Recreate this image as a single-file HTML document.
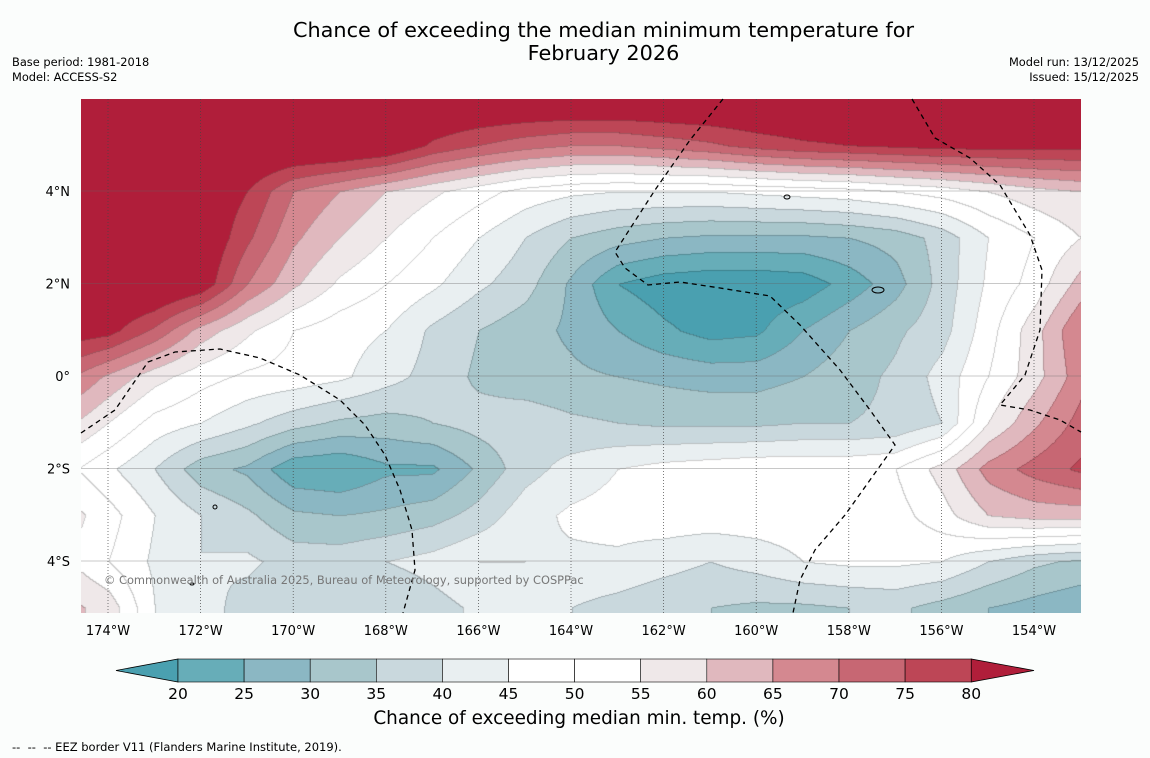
<!DOCTYPE html>
<html><head><meta charset="utf-8"><style>
body{margin:0;background:#fbfdfc;font-family:"DejaVu Sans","Liberation Sans",sans-serif;}
#wrap{position:relative;width:1150px;height:758px;overflow:hidden;background:#fbfdfc}
.t{position:absolute;white-space:nowrap;color:#000}
</style></head><body>
<div id="wrap">
<div class="t" style="left:0;width:1207px;text-align:center;top:19px;font-size:20.8px;line-height:23px">Chance of exceeding the median minimum temperature for<br>February 2026</div>
<div class="t" style="left:12px;top:55px;font-size:11.4px;line-height:15px">Base period: 1981-2018<br>Model: ACCESS-S2</div>
<div class="t" style="right:11px;top:55px;font-size:11.4px;line-height:15px;text-align:right">Model run: 13/12/2025<br>Issued: 15/12/2025</div>
<canvas id="map" width="1000" height="514" style="position:absolute;left:81px;top:99px"></canvas>
<svg id="ov" width="1150" height="758" style="position:absolute;left:0;top:0"></svg>
<div class="t" style="left:104px;top:573px;font-size:11.4px;color:#777">© Commonwealth of Australia 2025, Bureau of Meteorology, supported by COSPPac</div>
<div class="t" style="left:0;width:1150px;text-align:center;padding-left:8px;box-sizing:border-box;top:708px;font-size:18.4px">Chance of exceeding median min. temp. (%)</div>
<div class="t" style="left:12px;top:740px;font-size:11.5px">-- &nbsp;-- &nbsp;-- EEZ border V11 (Flanders Marine Institute, 2019).</div>
</div>
<script>
const lons=[-175,-174,-173,-172,-171,-170,-169,-168,-167,-166,-165,-164,-163,-162,-161,-160,-159,-158,-157,-156,-155,-154,-153];
const lats=[6,5,4,3,2,1,0,-1,-2,-3,-4,-5];
const row6=[88,88,88,88,88,88,88,88,88,88,88,88,88,88,88,88,88,88,88,88,88,88,88];
const row5=[88,88,88,88,88,88,88,86,79,75,72,70,70,72,74,77,79,80,81,82,82,82,82];
const row4=[88,88,88,86,80,70,65,60,56,52,48,46,45,45,45,46,47,48,50,52,55,58,60];
const row3=[88,88,88,86,76,66,60,55,50,45,40,35,32,30,29,29,29,30,32,37,45,50,55];
const row2=[88,88,88,84,70,61,54,50,46,41,37,29,20,17,16,16,17,22,28,37,46,52,62];
const row1=[84,82,74,63,56,50,47,45,39,35,32,29,25,21,18,19,25,30,34,38,48,58,70];
const row0=[72,64,57,52,49,48,46,42,38,34,32,31,30,29,28,28,30,33,36,42,50,58,68];
const rowS1=[62,55,48,45,41,37,34,33,35,37,38,36,35,34,34,34,35,35,36,40,55,64,72];
const rowS2=[52,46,40,32,29,21,20,24,24,31,38,42,45,47,48,49,49,49,50,57,67,72,76];
const rowS3=[58,52,45,40,36,31,30,31,33,37,43,46,47,48,48,48,48,48,48,53,60,62,62];
const rowS4=[56,50,44,40,41,38,38,40,42,45,45,44,44,42,40,42,45,46,46,45,40,36,34];
const rowS5=[62,58,45,42,38,36,35,35,38,41,42,40,38,36,35,34,34,35,36,33,30,28,26];
const grid=[row6,row5,row4,row3,row2,row1,row0,rowS1,rowS2,rowS3,rowS4,rowS5];
const levels=[20,25,30,35,40,45,50,55,60,65,70,75,80];
const colors=["#4aa0b0","#67adb8","#8bb7c3","#a8c6cb","#c9d8dd","#e9eff1","#ffffff","#ffffff","#efe8e9","#e0b8be","#d48890","#c76773","#bd4656","#b01e3a"];
const lonTicks=[-174,-172,-170,-168,-166,-164,-162,-160,-158,-156,-154];
const latTicks=[4,2,0,-2,-4];
const latLabels=["4°N","2°N","0°","2°S","4°S"];
const X0=81,Y0=99,W=1000,H=514;
function xOf(lon){return 108+(lon+174)*46.3;}
function yOf(lat){return 376-lat*46.25;}
function lonOf(x){return (x-108)/46.3-174;}
function latOf(y){return (376-y)/46.25;}
function hex(c){return [parseInt(c.substr(1,2),16),parseInt(c.substr(3,2),16),parseInt(c.substr(5,2),16)];}
const rgb=colors.map(hex);
function bin(v){let i=0;while(i<levels.length&&v>=levels[i])i++;return i;}
function val(lon,lat){
  let fi=(lon-lons[0]);let fj=(lats[0]-lat);
  fi=Math.max(0,Math.min(lons.length-1.001,fi));fj=Math.max(0,Math.min(lats.length-1.001,fj));
  const i=Math.floor(fi),j=Math.floor(fj),a=fi-i,b=fj-j;
  return grid[j][i]*(1-a)*(1-b)+grid[j][i+1]*a*(1-b)+grid[j+1][i]*(1-a)*b+grid[j+1][i+1]*a*b;
}
const cv=document.getElementById('map'),ctx=cv.getContext('2d');
const img=ctx.createImageData(W,H);const bins=new Int8Array(W*H);
for(let y=0;y<H;y++)for(let x=0;x<W;x++){bins[y*W+x]=bin(val(lonOf(x+X0),latOf(y+Y0)));}
for(let y=0;y<H;y++)for(let x=0;x<W;x++){
  const k=y*W+x,b=bins[k];let c=rgb[b];
  const edge=(x>0&&bins[k-1]!==b)||(y>0&&bins[k-W]!==b);
  const p=k*4;const d=edge?0.8:1;
  img.data[p]=c[0]*d;img.data[p+1]=c[1]*d;img.data[p+2]=c[2]*d;img.data[p+3]=255;
}
ctx.putImageData(img,0,0);
const NS='http://www.w3.org/2000/svg',ov=document.getElementById('ov');
function el(t,a,p){const e=document.createElementNS(NS,t);for(const k in a)e.setAttribute(k,a[k]);(p||ov).appendChild(e);return e;}
lonTicks.forEach(l=>{
  const x=xOf(l);
  const g=el('line',{x1:x,x2:x,y1:Y0,y2:Y0+H,stroke:'#444','stroke-width':0.7,'stroke-dasharray':'1,2'});
  
  
  const t=el('text',{x:x,y:635,'text-anchor':'middle','font-size':13,'font-family':'DejaVu Sans'});
  t.textContent=Math.abs(l)+'°W';
  
  
});
latTicks.forEach((l,i)=>{
  const y=yOf(l);
  const g=el('line',{x1:X0,x2:X0+W,y1:y,y2:y,stroke:'#666','stroke-width':0.6,opacity:0.7});
  
  
  const t=el('text',{x:70,y:y+5,'text-anchor':'end','font-size':13,'font-family':'DejaVu Sans'});
  t.textContent=latLabels[i];
  
  
});
const eez=[
 [[81,433],[115,410],[148,362],[175,352],[220,349],[260,358],[300,375],[340,400],[365,425],[385,455],[400,490],[412,530],[415,570],[403,613]],
 [[723,99],[690,140],[655,190],[615,252],[625,268],[648,285],[680,282],[720,288],[770,296],[800,325],[840,370],[870,410],[895,445],[870,480],[845,515],[815,550],[800,580],[793,613]],
 [[912,99],[935,138],[970,158],[1000,185],[1030,235],[1042,270],[1040,330],[1025,375],[1000,405],[1030,410],[1060,420],[1081,432]]];
eez.forEach(p=>{
  const e=el('polyline',{points:p.map(q=>q.join(',')).join(' '),fill:'none',stroke:'#000','stroke-width':1.3,'stroke-dasharray':'5,4'});
  
  
});
[[878,290,6,3],[787,197,3,2],[215,507,2,2],[192,584,2,1]].forEach(a=>{
  const e=el('ellipse',{cx:a[0],cy:a[1],rx:a[2],ry:a[3],fill:'none',stroke:'#000','stroke-width':1});
  
  
});
const cbX0=178,cbStep=66.1,cbY=659,cbH=23;
function cbx(v){return cbX0+(v-20)/5*cbStep;}
const la=el('polygon',{points:`116,${cbY+cbH/2} ${cbx(20)},${cbY} ${cbx(20)},${cbY+cbH}`,fill:colors[0],stroke:'#000','stroke-width':0.8});


const ra=el('polygon',{points:`1034,${cbY+cbH/2} ${cbx(80)},${cbY} ${cbx(80)},${cbY+cbH}`,fill:colors[13],stroke:'#000','stroke-width':0.8});


for(let i=0;i<levels.length-1;i++){
  const r=el('rect',{x:cbx(levels[i]),y:cbY,width:cbx(levels[i+1])-cbx(levels[i]),height:cbH,fill:colors[i+1],stroke:'#000','stroke-width':0.6});
  
  
}
levels.forEach(v=>{
  const t=el('text',{x:cbx(v),y:699,'text-anchor':'middle','font-size':15.5,'font-family':'DejaVu Sans'});
  t.textContent=v;
  
  
});
</script>
</body></html>
